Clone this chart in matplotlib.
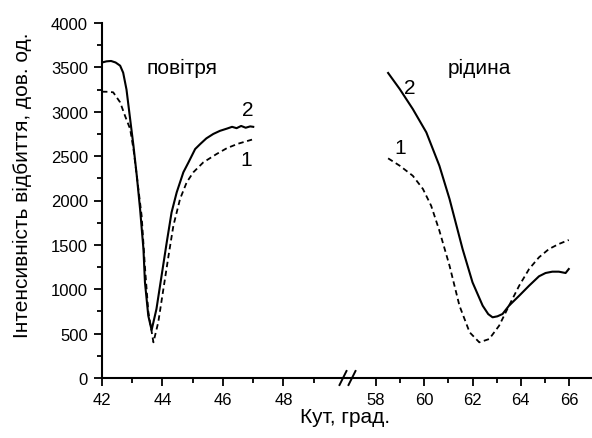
import matplotlib.pyplot as plt
from matplotlib.lines import Line2D
from matplotlib.ticker import MultipleLocator

plt.rcParams['font.family'] = ['Liberation Sans', 'DejaVu Sans']

# повітря (air), curve 2 - solid
air_x2 = [42.0, 42.15, 42.3, 42.45, 42.6, 42.7, 42.81, 42.93, 43.04, 43.15,
          43.26, 43.37, 43.42, 43.53, 43.64, 43.8, 43.97, 44.14, 44.3, 44.47,
          44.69, 44.86, 45.08, 45.25, 45.45, 45.68, 45.9, 46.13, 46.3, 46.45,
          46.6, 46.75, 46.9, 47.0]
air_y2 = [3555, 3568, 3572, 3555, 3519, 3440, 3250, 2918, 2617, 2279,
          1900, 1453, 1078, 702, 540, 777, 1153, 1528, 1866, 2092,
          2318, 2430, 2580, 2637, 2700, 2750, 2785, 2810, 2830, 2815,
          2840, 2820, 2835, 2830]

# повітря (air), curve 1 - dashed
air_x1 = [42.0, 42.2, 42.37, 42.6, 42.76, 42.93, 43.04, 43.15, 43.31, 43.42,
          43.53, 43.7, 43.86, 44.03, 44.2, 44.36, 44.58, 44.8, 45.02, 45.35,
          45.79, 46.13, 46.5, 46.96]
air_y1 = [3226, 3225, 3219, 3106, 2955, 2806, 2580, 2279, 1828, 1250,
          750, 402, 628, 1003, 1378, 1716, 2017, 2205, 2318, 2430,
          2524, 2590, 2640, 2686]

# рідина (liquid), curve 2 - solid
liq_x2 = [58.51, 58.99, 59.53, 60.09, 60.63, 61.05, 61.59, 62.0, 62.42, 62.65,
          62.83, 63.03, 63.24, 63.51, 63.93, 64.34, 64.75, 65.02, 65.3, 65.57,
          65.85, 65.98]
liq_y2 = [3437, 3256, 3031, 2768, 2392, 2017, 1453, 1078, 815, 720,
          684, 695, 721, 815, 927, 1040, 1146, 1183, 1198, 1198,
          1183, 1228]

# рідина (liquid), curve 1 - dashed
liq_x1 = [58.51, 58.99, 59.53, 59.95, 60.29, 60.63, 61.05, 61.46, 61.88, 62.28,
          62.69, 63.1, 63.51, 63.93, 64.34, 64.75, 65.16, 65.57, 65.98]
liq_y1 = [2475, 2392, 2279, 2130, 1941, 1660, 1265, 815, 515, 402,
          439, 589, 815, 1040, 1228, 1360, 1453, 1510, 1555]

W, H = 592, 439
fig = plt.figure(figsize=(W / 100, H / 100), dpi=100)

x0, xb, x1 = 102, 347, 591
y0, y1 = 60, 415
ax1 = fig.add_axes([x0 / W, y0 / H, (xb - x0) / W, (y1 - y0) / H])
ax2 = fig.add_axes([xb / W, y0 / H, (x1 - xb) / W, (y1 - y0) / H])

dash = (0, (3, 2))
ax1.plot(air_x2, air_y2, color='black', lw=1.5)
ax1.plot(air_x1, air_y1, color='black', lw=1.3, linestyle=dash)
ax2.plot(liq_x2, liq_y2, color='black', lw=1.5)
ax2.plot(liq_x1, liq_y1, color='black', lw=1.3, linestyle=dash)

ax1.set_xlim(42, 50.1)
ax2.set_xlim(56.81, 66.9)
for ax in (ax1, ax2):
    ax.set_ylim(0, 4000)
    ax.spines['top'].set_visible(False)
    ax.spines['right'].set_visible(False)
    ax.spines['bottom'].set_linewidth(1.5)
    ax.spines['left'].set_linewidth(1.5)
    ax.tick_params(which='major', direction='out', length=6, width=1.3,
                   labelsize=12, pad=4)
    ax.tick_params(which='minor', direction='out', length=3.5, width=1.3)
    ax.patch.set_alpha(0)

ax1.set_xticks([42, 44, 46, 48])
ax1.set_xticks([43, 45, 47, 49], minor=True)
ax1.yaxis.set_major_locator(MultipleLocator(500))
ax1.yaxis.set_minor_locator(MultipleLocator(250))
ax2.spines['left'].set_visible(False)
ax2.tick_params(axis='y', which='both', left=False, labelleft=False)
ax2.set_xticks([58, 60, 62, 64, 66])
ax2.set_xticks([59, 61, 63, 65], minor=True)

fig.text(22 / W, 1 - 185 / H, 'Інтенсивність відбиття, дов. од.', fontsize=15,
         rotation=90, ha='center', va='center')
fig.text(345 / W, 1 - 418 / H, 'Кут, град.', fontsize=15, ha='center', va='center')

kw = dict(ha='center', va='center', transform=fig.transFigure)
fig.text(182 / W, 1 - 68 / H, 'повітря', fontsize=15, **kw)
fig.text(248 / W, 1 - 110 / H, '2', fontsize=15, **kw)
fig.text(246 / W, 1 - 160 / H, '1', fontsize=15, **kw)
fig.text(479 / W, 1 - 68 / H, 'рідина', fontsize=15, **kw)
fig.text(410 / W, 1 - 88 / H, '2', fontsize=15, **kw)
fig.text(400 / W, 1 - 149 / H, '1', fontsize=15, **kw)

# axis break marks
for cx in (343, 352):
    fig.add_artist(Line2D([(cx - 3.5) / W, (cx + 3.5) / W],
                          [1 - 386 / H, 1 - 372 / H],
                          color='black', lw=1.4, transform=fig.transFigure))

fig.savefig('out.png', dpi=100)
